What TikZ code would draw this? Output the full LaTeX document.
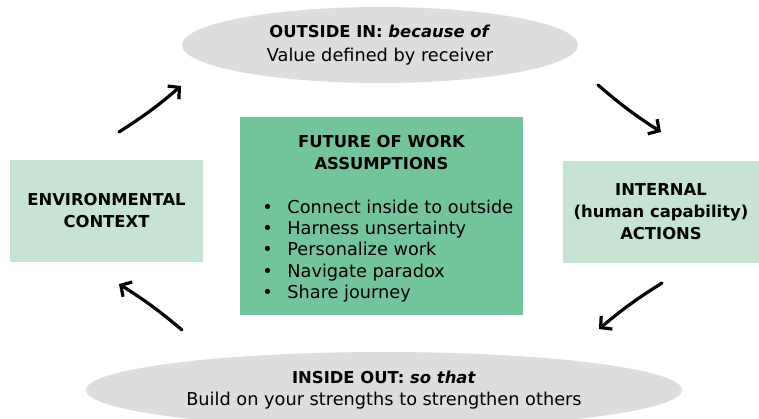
\documentclass[tikz,border=0pt]{standalone}
\usepackage{fontspec}
\setmainfont{DejaVu Sans}
\usetikzlibrary{arrows.meta,shapes.geometric}

\definecolor{ovalgrey}{RGB}{221,221,221}
\definecolor{palegreen}{RGB}{198,227,212}
\definecolor{coregreen}{RGB}{116,196,155}

\newcommand{\diagfont}{\fontsize{13.3}{16}\selectfont}
\newcommand{\headfont}{\fontsize{12.3}{16.5}\selectfont\bfseries}

\tikzset{
oval/.style={ellipse, fill=ovalgrey, inner sep=0pt, align=center},
sidebox/.style={rectangle, fill=palegreen, minimum height=76.5pt, align=center, font=\headfont},
corebox/.style={rectangle, fill=coregreen, minimum width=212.25pt, minimum height=148.5pt},
cyclearrow/.style={line width=2.4pt, line cap=round, -{Straight Barb[length=6pt,width=13pt]}, bend left=4}}

\begin{document}
\begin{tikzpicture}[x=0.75pt,y=0.75pt,yscale=-1,font=\diagfont]
\useasboundingbox (0,0) rectangle (759,418);

% Ovals
\node[oval, minimum width=297pt, minimum height=57pt] (outin) at (380,45)
  {{\headfont OUTSIDE IN: \textit{because of}}\\[1.5pt]Value defined by receiver};
\node[oval, minimum width=447pt, minimum height=57pt] (inout) at (384,390)
  {{\headfont INSIDE OUT: \textit{so that}}\\Build on your strengths to strengthen others};

% Side boxes
\node[sidebox, minimum width=144.75pt] (env) at (106.5,211) {ENVIRONMENTAL\\CONTEXT};
\node[sidebox, minimum width=147pt] (internal) at (661,212) {INTERNAL\\(human capability)\\ACTIONS};

% Centre box
\node[corebox] (core) at (381.5,216) {};
\node[align=center, font=\headfont, anchor=north] (coretitle) at (381.5,131) {FUTURE OF WORK\\ASSUMPTIONS};
\node[anchor=north west, inner sep=0pt] (corelist) at (262,198)
  {\begin{tabular}{@{}l@{\hspace{11pt}}l@{}}
   \textbullet & Connect inside to outside\\
   \textbullet & Harness unsertainty\\
   \textbullet & Personalize work\\
   \textbullet & Navigate paradox\\
   \textbullet & Share journey
   \end{tabular}};

% Arrow ends
\coordinate (a1) at (119,132);
\coordinate (a2) at (181,86);
\coordinate (b1) at (598,85);
\coordinate (b2) at (661,132);
\coordinate (c1) at (662,283);
\coordinate (c2) at (599,329);
\coordinate (d1) at (182,330);
\coordinate (d2) at (119,284);

%Arrows
\draw[cyclearrow] (a1) to (a2);
\draw[cyclearrow] (b1) to (b2);
\draw[cyclearrow] (c1) to (c2);
\draw[cyclearrow] (d1) to (d2);

\end{tikzpicture}
\end{document}
